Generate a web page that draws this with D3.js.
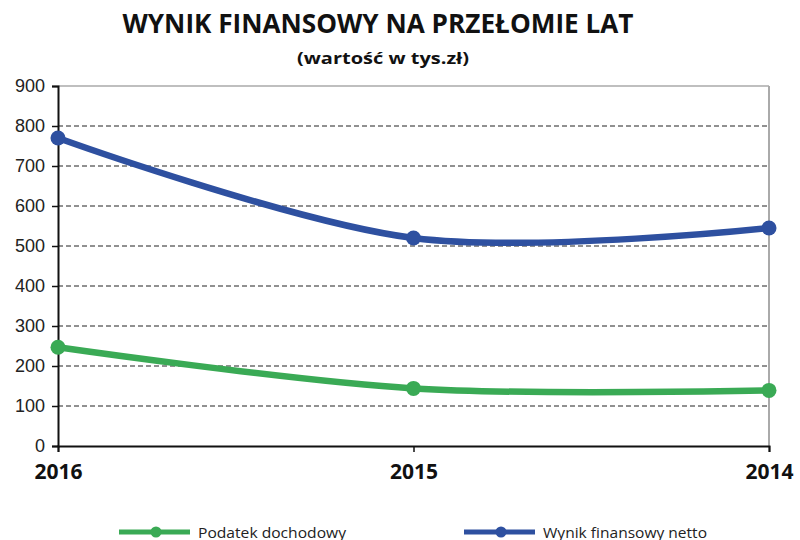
<!DOCTYPE html>
<html>
<head>
<meta charset="utf-8">
<script src="https://cdn.jsdelivr.net/npm/d3@7"></script>
<style>
  html, body { margin: 0; padding: 0; background: #fff; }
  svg { display: block; }
</style>
</head>
<body>
<svg id="chart" width="800" height="540"></svg>
<script>
// Years shown left to right
const years = ["2016", "2015", "2014"];
// Values in thousands of PLN
const podatek = [247, 144, 139];
const wynik = [770, 520, 545];
const yTicks = [0, 100, 200, 300, 400, 500, 600, 700, 800, 900];
const seriesNames = ["Podatek dochodowy", "Wynik finansowy netto"];
const seriesColors = ["#3aaa55", "#2e50a0"];

const svg = d3.select("#chart");
const plotLeft = 58, plotRight = 769, plotTop = 86, plotBottom = 446;

const x = d3.scalePoint().domain(years).range([plotLeft, plotRight]);
const y = d3.scaleLinear().domain([0, 900]).range([plotBottom, plotTop]);

// dashed gridlines
svg.append("g")
  .selectAll("line")
  .data(yTicks.filter(d => d > 0 && d < 900))
  .join("line")
  .attr("x1", plotLeft).attr("x2", plotRight)
  .attr("y1", d => y(d)).attr("y2", d => y(d))
  .attr("stroke", "#222").attr("stroke-width", 1)
  .attr("stroke-dasharray", "5,3");

// plot frame top and right
svg.append("line").attr("x1", plotLeft).attr("x2", plotRight).attr("y1", y(900)).attr("y2", y(900))
  .attr("stroke", "#aaa").attr("stroke-width", 1.5);
svg.append("line").attr("x1", plotRight).attr("x2", plotRight).attr("y1", y(900)).attr("y2", plotBottom)
  .attr("stroke", "#aaa").attr("stroke-width", 2);

// y axis
const yAxis = svg.append("g").attr("transform", `translate(${plotLeft},0)`)
  .call(d3.axisLeft(y).tickValues(yTicks).tickSize(6).tickPadding(7).tickFormat(d3.format("d")));
yAxis.select(".domain").attr("stroke", "#111").attr("stroke-width", 2);
yAxis.selectAll(".tick line").attr("stroke", "#111").attr("stroke-width", 1.5);
yAxis.selectAll(".tick text")
  .attr("font-family", "Liberation Sans, Arial, sans-serif")
  .attr("font-size", 18).attr("fill", "#222");

// x axis
const xAxis = svg.append("g").attr("transform", `translate(0,${plotBottom})`)
  .call(d3.axisBottom(x).tickSize(6).tickPadding(12));
xAxis.select(".domain").attr("stroke", "#111").attr("stroke-width", 2);
xAxis.selectAll(".tick line").attr("stroke", "#111").attr("stroke-width", 1.5);
xAxis.selectAll(".tick text")
  .attr("font-family", "'Open Sans', Arial, sans-serif")
  .attr("font-weight", "bold")
  .attr("font-size", 21).attr("fill", "#111");

// series lines
const line = d3.line()
  .x((d, i) => x(years[i]))
  .y(d => y(d))
  .curve(d3.curveCardinal.tension(0));

[podatek, wynik].forEach((vals, k) => {
  svg.append("path")
    .datum(vals)
    .attr("d", line)
    .attr("fill", "none")
    .attr("stroke", seriesColors[k])
    .attr("stroke-width", 6.5)
    .attr("stroke-linejoin", "round");
  svg.append("g").selectAll("circle")
    .data(vals)
    .join("circle")
    .attr("cx", (d, i) => x(years[i]))
    .attr("cy", d => y(d))
    .attr("r", 7.5)
    .attr("fill", seriesColors[k]);
});

// title
svg.append("text")
  .attr("x", 378).attr("y", 33)
  .attr("text-anchor", "middle")
  .attr("font-family", "'Open Sans', Arial, sans-serif")
  .attr("font-weight", "bold")
  .attr("font-size", 26)
  .attr("textLength", 511)
  .attr("lengthAdjust", "spacingAndGlyphs")
  .attr("fill", "#111")
  .text("WYNIK FINANSOWY NA PRZEŁOMIE LAT");
svg.append("text")
  .attr("x", 383).attr("y", 64)
  .attr("text-anchor", "middle")
  .attr("font-family", "'Open Sans', Arial, sans-serif")
  .attr("font-weight", "bold")
  .attr("font-size", 16)
  .attr("textLength", 172)
  .attr("lengthAdjust", "spacingAndGlyphs")
  .attr("fill", "#111")
  .text("(wartość w tys.zł)");

// legend
const legendX = [119, 464];
const legendTextLen = [148, 164];
seriesNames.forEach((name, k) => {
  const g = svg.append("g").attr("transform", `translate(${legendX[k]},532)`);
  g.append("line").attr("x1", 0).attr("x2", 71).attr("y1", 0).attr("y2", 0)
    .attr("stroke", seriesColors[k]).attr("stroke-width", 5);
  g.append("circle").attr("cx", 37).attr("cy", 0).attr("r", 5.5).attr("fill", seriesColors[k]);
  g.append("text").attr("x", 79).attr("y", 5.5)
    .attr("font-family", "'Open Sans', Arial, sans-serif")
    .attr("font-size", 15)
    .attr("textLength", legendTextLen[k])
    .attr("lengthAdjust", "spacingAndGlyphs")
    .attr("fill", "#222")
    .text(name);
});
</script>
</body>
</html>
